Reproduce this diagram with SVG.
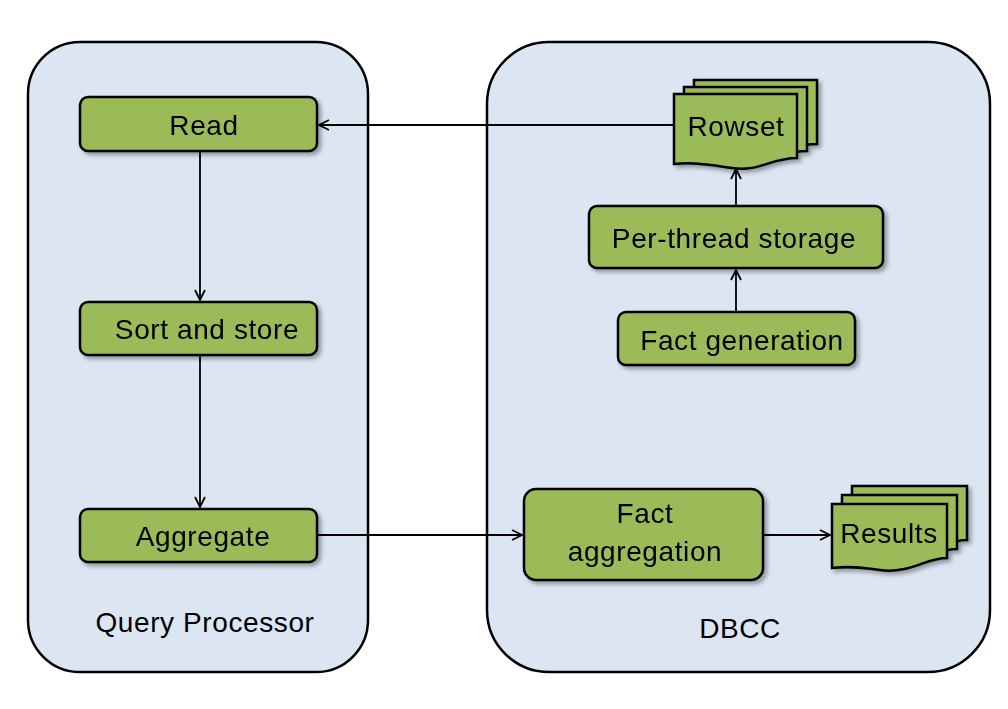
<svg xmlns="http://www.w3.org/2000/svg" width="1008" height="709" viewBox="0 0 1008 709">
<defs>
<style>
.cont{fill:#dce6f2;stroke:#000;stroke-width:2.5}
.node{fill:#9bbb59;stroke:#000;stroke-width:2.5}
.t{font-family:"Liberation Sans",Arial,sans-serif;font-size:28px;letter-spacing:0.6px;fill:#000;text-anchor:middle;dominant-baseline:central}
.edge{fill:none;stroke:#000;stroke-width:1.8}
</style>
<filter id="sh" x="-10%" y="-10%" width="130%" height="140%">
<feDropShadow dx="3" dy="3" stdDeviation="2" flood-color="#000" flood-opacity="0.35"/>
</filter>
<marker id="ah" viewBox="0 0 12 12" refX="11" refY="6" markerWidth="12" markerHeight="12" markerUnits="userSpaceOnUse" orient="auto">
<path d="M1,1 L11,6 L1,11" fill="none" stroke="#000" stroke-width="1.8"/>
</marker>
</defs>
<rect width="1008" height="709" fill="#fff"/>
<g id="query-processor">
<rect class="cont" x="28" y="42" width="340" height="630" rx="52"/>
<text class="t" x="205" y="622">Query Processor</text>
</g>
<g id="dbcc">
<rect class="cont" x="487" y="42" width="503" height="630" rx="62"/>
<text class="t" x="740" y="628">DBCC</text>
</g>
<g id="connectors">
<line class="edge" x1="674" y1="125" x2="319" y2="125" marker-end="url(#ah)"/>
<line class="edge" x1="200" y1="151" x2="200" y2="300" marker-end="url(#ah)"/>
<line class="edge" x1="200" y1="355" x2="200" y2="507" marker-end="url(#ah)"/>
<line class="edge" x1="317" y1="535" x2="522" y2="535" marker-end="url(#ah)"/>
<line class="edge" x1="763" y1="535" x2="830" y2="535" marker-end="url(#ah)"/>
<line class="edge" x1="736" y1="312" x2="736" y2="270" marker-end="url(#ah)"/>
<line class="edge" x1="736" y1="206" x2="736" y2="169" marker-end="url(#ah)"/>
</g>
<g id="read" filter="url(#sh)">
<rect class="node" x="80" y="97" width="237" height="54" rx="8"/>
<text class="t" x="204" y="125">Read</text>
</g>
<g id="sort-and-store" filter="url(#sh)">
<rect class="node" x="80" y="302" width="237" height="53" rx="8"/>
<text class="t" x="207" y="329">Sort and store</text>
</g>
<g id="aggregate" filter="url(#sh)">
<rect class="node" x="80" y="509" width="237" height="53" rx="8"/>
<text class="t" x="203" y="536">Aggregate</text>
</g>
<g id="rowset" filter="url(#sh)">
<path class="node" d="M694,80 H817 V144 C790,144 780,158 752,154 C730,151 715,148 694,150 Z"/>
<path class="node" d="M684,87 H807 V151 C780,151 770,165 742,161 C720,158 705,155 684,157 Z"/>
<path class="node" d="M674,94 H797 V158 C770,158 760,172 732,168 C710,165 695,162 674,164 Z"/>
<text class="t" x="736" y="126">Rowset</text>
</g>
<g id="per-thread-storage" filter="url(#sh)">
<rect class="node" x="589" y="206" width="294" height="62" rx="8"/>
<text class="t" x="734" y="238">Per-thread storage</text>
</g>
<g id="fact-generation" filter="url(#sh)">
<rect class="node" x="618" y="312" width="237" height="53" rx="8"/>
<text class="t" x="742" y="340">Fact generation</text>
</g>
<g id="fact-aggregation" filter="url(#sh)">
<rect class="node" x="524" y="489" width="239" height="91" rx="12"/>
<text class="t" x="645" y="513">Fact</text>
<text class="t" x="645" y="551">aggregation</text>
</g>
<g id="results" filter="url(#sh)">
<path class="node" d="M852,486 H967 V540 C945,540 930,556 900,552 C880,549 868,548 852,550 Z"/>
<path class="node" d="M842,495 H957 V549 C935,549 920,565 890,561 C870,558 858,557 842,559 Z"/>
<path class="node" d="M832,504 H947 V558 C925,558 910,574 880,570 C860,567 848,566 832,568 Z"/>
<text class="t" x="889" y="533">Results</text>
</g>
</svg>
